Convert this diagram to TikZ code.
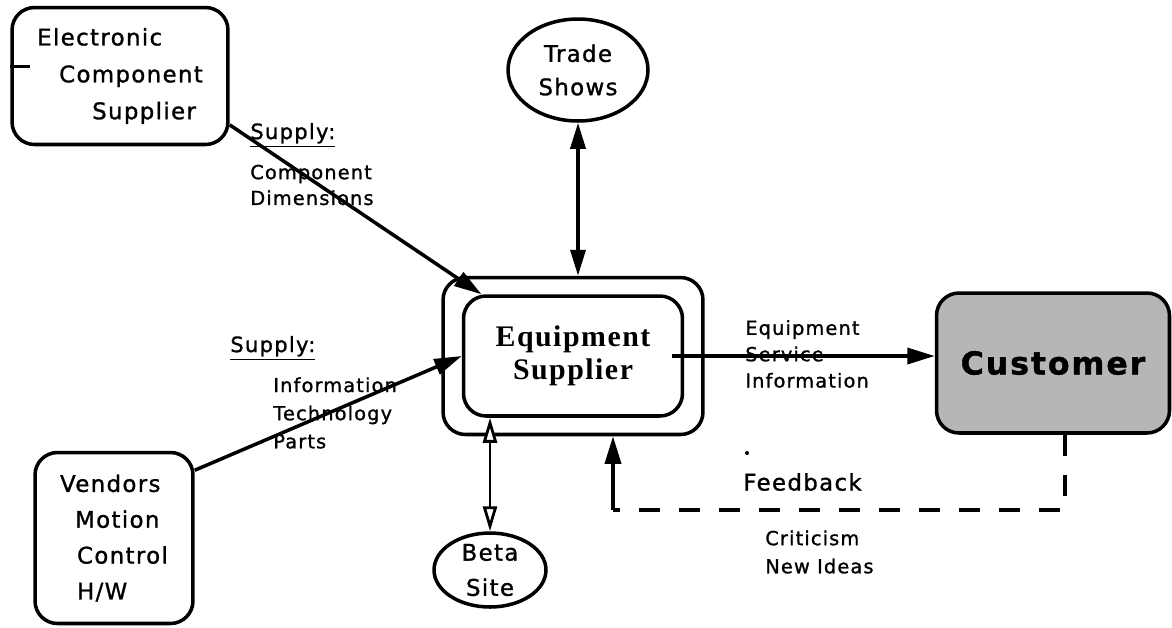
\documentclass[tikz,border=0pt]{standalone}
\usepackage{fontspec}
\setmainfont{DejaVu Sans}[LetterSpace=6, FakeBold=1.2]
\newfontfamily\eqfont{Liberation Serif}[LetterSpace=5]
\usepackage{tikz}
\usetikzlibrary{positioning,calc,arrows.meta,shapes.geometric}
\definecolor{CustGray}{RGB}{182,182,182}

\begin{document}
\begin{tikzpicture}[x=0.02cm, y=-0.02cm,
	% rounded boxes for the parties
	boxnode/.style={
		rectangle,
		rounded corners=0.45cm,
		draw,
		line width=2pt,
		inner sep=0pt,
		align=left,
		font=\fontsize{13}{21}\selectfont
	},
	% ovals for the events
	ovalnode/.style={
		ellipse,
		draw,
		line width=2pt,
		inner xsep=0pt,
		inner ysep=-6pt,
		align=center,
		font=\fontsize{13}{19}\selectfont
	},
	% flow labels
	labelnode/.style={
		anchor=west,
		inner sep=0pt,
		align=left,
		font=\fontsize{11}{15}\selectfont
	},
	flow/.style={line width=2pt, -{Triangle[length=0.55cm, width=0.32cm]}},
	twoway/.style={line width=2pt, {Triangle[length=0.52cm, width=0.3cm]}-{Triangle[length=0.52cm, width=0.3cm]}},
	hollow/.style={line width=1.6pt, {Triangle[length=0.5cm, width=0.28cm, fill=white]}-{Triangle[length=0.5cm, width=0.28cm, fill=white]}},
	fbdash/.style={line width=2pt, dash pattern=on 0.42cm off 0.38cm}
]
	\useasboundingbox (0,0) rectangle (1172,627);

	% --- PARTIES ---
	\node[boxnode, minimum width=4.32cm, minimum height=2.74cm] (ecs) at (120,76)
		{Electronic\\\hspace*{0.44cm}Component\\\hspace*{1.1cm}Supplier};
	\node[boxnode, minimum width=3.16cm, minimum height=3.42cm, font=\fontsize{13}{20.4}\selectfont] (vend) at (114,538)
		{Vendors\\\hspace*{0.3cm}Motion\\\hspace*{0.34cm}Control\\\hspace*{0.34cm}H/W};

	% Equipment supplier (double outline)
	\node[boxnode, minimum width=5.2cm, minimum height=3.14cm] (eqout) at (573,356) {};
	\node[boxnode, minimum width=4.38cm, minimum height=2.4cm, align=center,
		font=\eqfont\bfseries\fontsize{17}{19}\selectfont] (eqin) at (eqout.center) {Equipment\\Supplier};

	% Customer (shaded)
	\node[boxnode, fill=CustGray, minimum width=4.66cm, minimum height=2.8cm,
		font=\bfseries\fontsize{18}{20}\selectfont] (cust) at (1053,363) {Customer};

	\node[ovalnode, minimum width=2.8cm, minimum height=2.04cm] (trade) at (578,70) {Trade\\Shows};
	\node[ovalnode, minimum width=2.24cm, minimum height=1.48cm, font=\fontsize{13}{20}\selectfont] (beta) at (490,570) {Beta\\Site};

	% --- LABELS ---
	\node[labelnode, font=\fontsize{12}{14}\selectfont] (sup1) at (250,135) {\underline{Supply:}};
	\node[labelnode, font=\fontsize{11}{14.7}\selectfont] (compdim) at (250,185) {Component\\Dimensions};
	\node[labelnode, font=\fontsize{12}{14}\selectfont] (sup2) at (230,348) {\underline{Supply:}};
	\node[labelnode, font=\fontsize{11}{16}\selectfont] (infotech) at (273,413) {Information\\Technology\\Parts};
	\node[labelnode] (eqinfo) at (745,354) {Equipment\\Service\\Information};
	\node[labelnode, font=\fontsize{13}{15}\selectfont] (fb) at (743,482) {Feedback};
	\node[labelnode, font=\fontsize{11}{16}\selectfont] (crit) at (765,552) {Criticism\\New Ideas};

	% --- CONNECTORS ---
	\draw[flow] (ecs.-24) -- (eqin.146);
	\draw[flow] (vend.40) -- (eqin.west);
	\draw[twoway] (trade.south) -- (trade.south |- eqout.north);
	\draw[hollow] (beta.north |- eqin.south) -- (beta.north);
	\draw[flow] ([xshift=-0.24cm]eqin.east) -- (cust.west |- eqin.east);

	% feedback loop back to the supplier
	\coordinate (fbr) at (1065,510);
	\coordinate (fbl) at (613,510);
	\draw[fbdash] (fbr |- cust.south) -- (fbr) -- (fbl);
	\draw[flow] (fbl) -- (fbl |- eqout.south);

	% small marks
	\draw[line width=2pt] ([yshift=0.19cm]ecs.west) -- ++(20,0);
	\fill (747,453) circle (0.04cm);
\end{tikzpicture}
\end{document}
